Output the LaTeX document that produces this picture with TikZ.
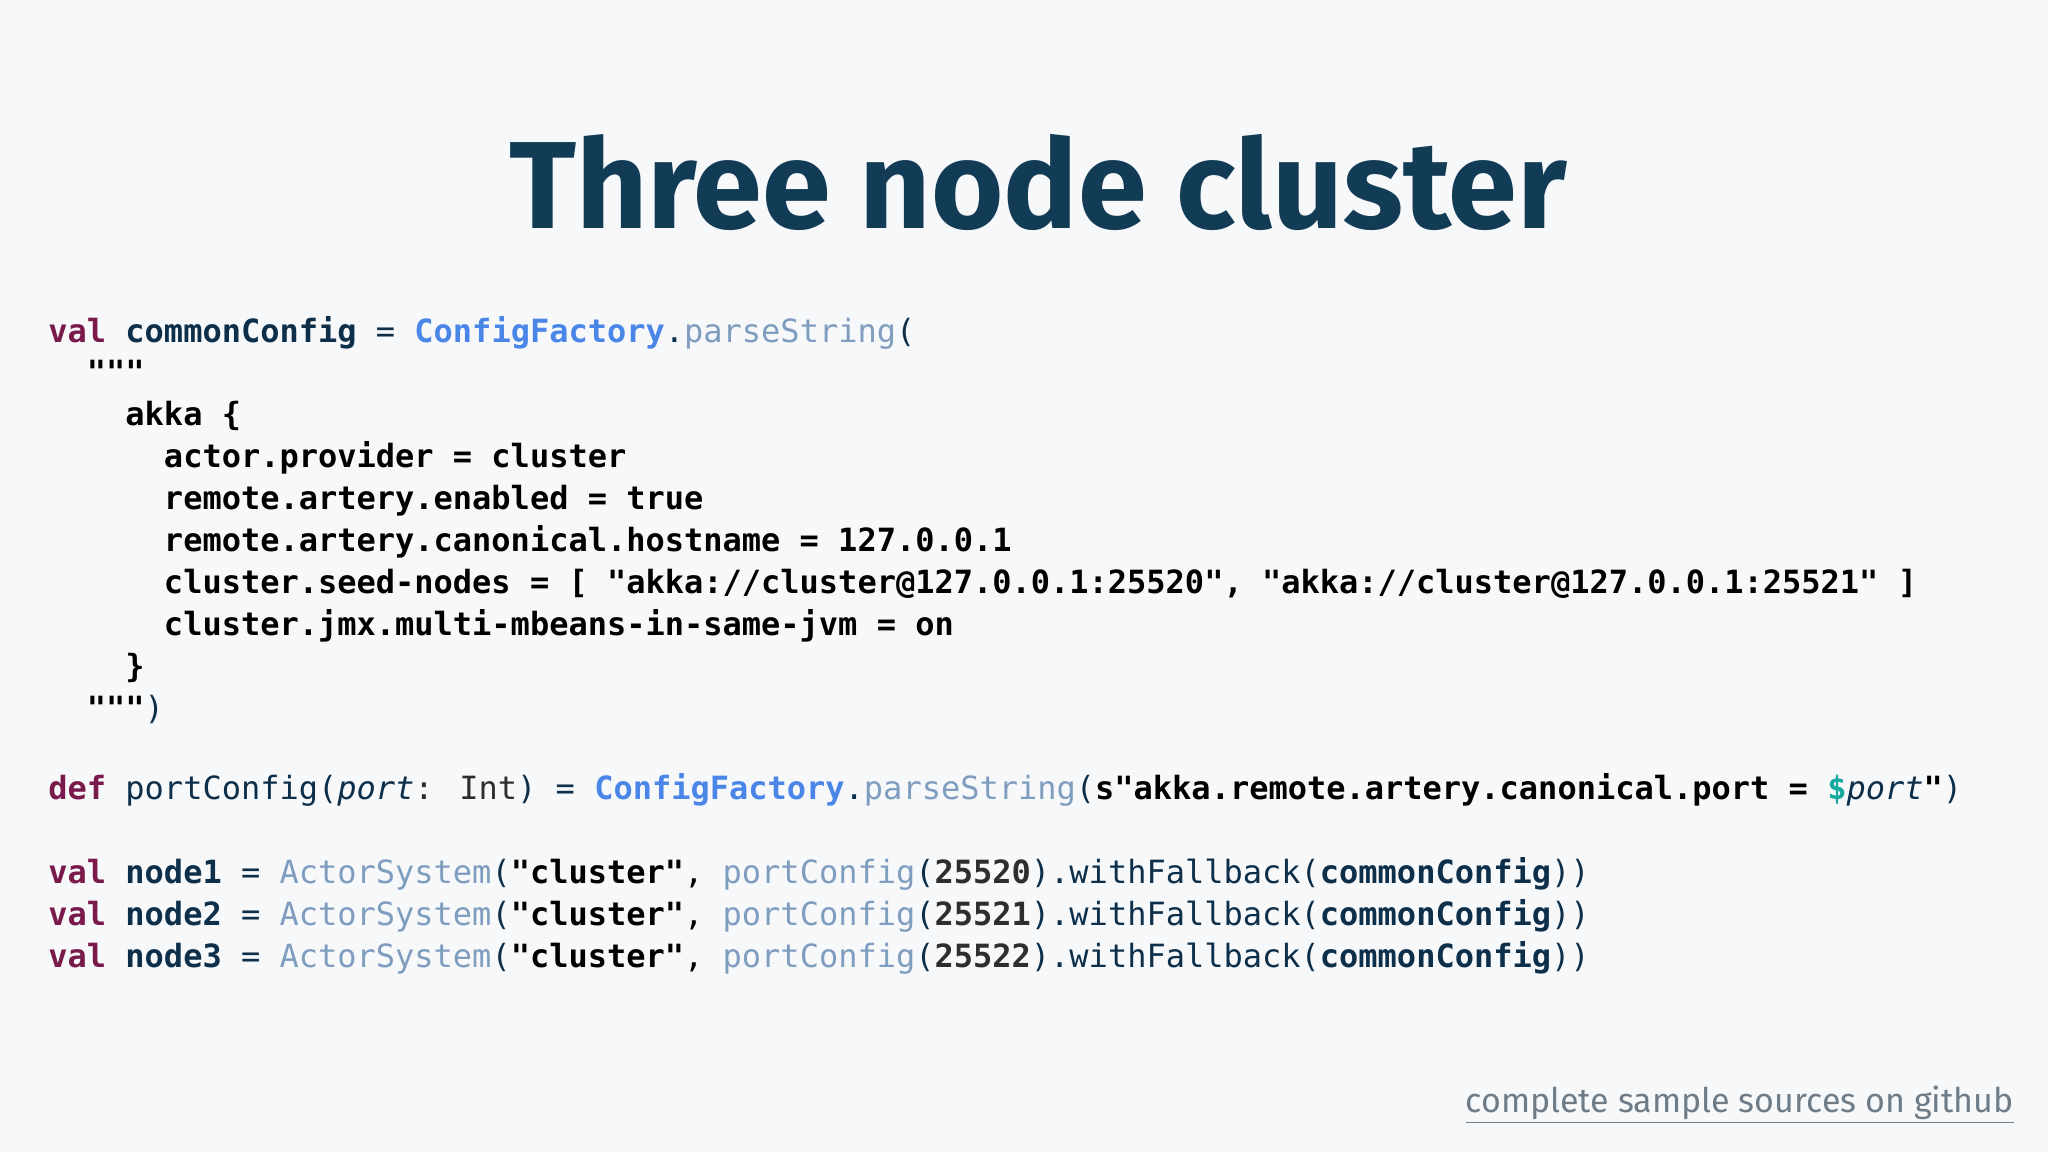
\documentclass[tikz,border=0pt]{standalone}
\usepackage{fontspec}
\setmainfont{Fira Sans}
\newfontfamily\code{DejaVu Sans Mono}
\definecolor{bg}{HTML}{F7F8FA}
\definecolor{kw}{HTML}{7A1A4C}
\definecolor{idn}{HTML}{0D2F4A}
\definecolor{cf}{HTML}{4A86E8}
\definecolor{mt}{HTML}{7F9DBF}
\definecolor{num}{HTML}{2E2E2E}
\definecolor{ttl}{HTML}{123B56}
\definecolor{lnk}{HTML}{6E7C88}
\definecolor{dol}{HTML}{17A9A0}
\newcommand{\cK}[1]{\textcolor{kw}{\bfseries #1}}
\newcommand{\cI}[1]{\textcolor{idn}{\bfseries #1}}
\newcommand{\cC}[1]{\textcolor{cf}{\bfseries #1}}
\newcommand{\cM}[1]{\textcolor{mt}{#1}}
\newcommand{\cP}[1]{\textcolor{idn}{#1}}
\newcommand{\cN}[1]{\textcolor{num}{\bfseries #1}}
\tikzset{cl/.style={anchor=base west,inner sep=0pt,font=\code\fontsize{16}{20}\selectfont,text=black}}
\begin{document}
\begin{tikzpicture}[x=1pt,y=1pt]
\fill[bg] (0,0) rectangle (1024,-576);
\useasboundingbox (0,0) rectangle (1024,-576);
\node[font=\fontsize{62}{70}\selectfont\bfseries,text=ttl] (title) at (519,-91) {Three node cluster};
\node[cl] (l1) at (24,-171) {\cK{val} \cI{commonConfig} \cP{=} \cC{ConfigFactory}\cP{.}\cM{parseString}\cP{(}};
\node[cl] (l2) at (24,-191.5) {\bfseries\ \ """};
\node[cl] (l3) at (24,-212.5) {\bfseries\ \ \ \ akka \{};
\node[cl] (l4) at (24,-233.5) {\bfseries\ \ \ \ \ \ actor.provider = cluster};
\node[cl] (l5) at (24,-254.5) {\bfseries\ \ \ \ \ \ remote.artery.enabled = true};
\node[cl] (l6) at (24,-275.5) {\bfseries\ \ \ \ \ \ remote.artery.canonical.hostname = 127.0.0.1};
\node[cl] (l7) at (24,-296.5) {\bfseries\ \ \ \ \ \ cluster.seed-nodes = [ "akka://cluster@127.0.0.1:25520", "akka://cluster@127.0.0.1:25521" ]};
\node[cl] (l8) at (24,-317.5) {\bfseries\ \ \ \ \ \ cluster.jmx.multi-mbeans-in-same-jvm = on};
\node[cl] (l9) at (24,-338.5) {\bfseries\ \ \ \ \}};
\node[cl] (l10) at (24,-359.5) {\ \ \textbf{"""}\cP{)}};
\node[cl] (l11) at (24,-399.5) {\cK{def} \cP{portConfig(\textit{port}}\textcolor{num}{: Int}\cP{)} \cP{=} \cC{ConfigFactory}\cP{.}\cM{parseString}\cP{(}\textbf{s"akka.remote.artery.canonical.port = }\textcolor{dol}{\bfseries\$}\cP{\textit{port}}\textbf{"}\cP{)}};
\node[cl] (l12) at (24,-441.5) {\cK{val} \cI{node1} \cP{=} \cM{ActorSystem}\cP{(}\textbf{"cluster"}, \cM{portConfig}\cP{(}\cN{25520}\cP{).withFallback(}\cI{commonConfig}\cP{))}};
\node[cl] (l13) at (24,-462.5) {\cK{val} \cI{node2} \cP{=} \cM{ActorSystem}\cP{(}\textbf{"cluster"}, \cM{portConfig}\cP{(}\cN{25521}\cP{).withFallback(}\cI{commonConfig}\cP{))}};
\node[cl] (l14) at (24,-483.5) {\cK{val} \cI{node3} \cP{=} \cM{ActorSystem}\cP{(}\textbf{"cluster"}, \cM{portConfig}\cP{(}\cN{25522}\cP{).withFallback(}\cI{commonConfig}\cP{))}};
\node[anchor=base east,inner sep=0pt,font=\fontsize{17}{20}\selectfont\mdseries,text=lnk] (link) at (1007,-556) {\underline{complete sample sources on github}};
\end{tikzpicture}
\end{document}
